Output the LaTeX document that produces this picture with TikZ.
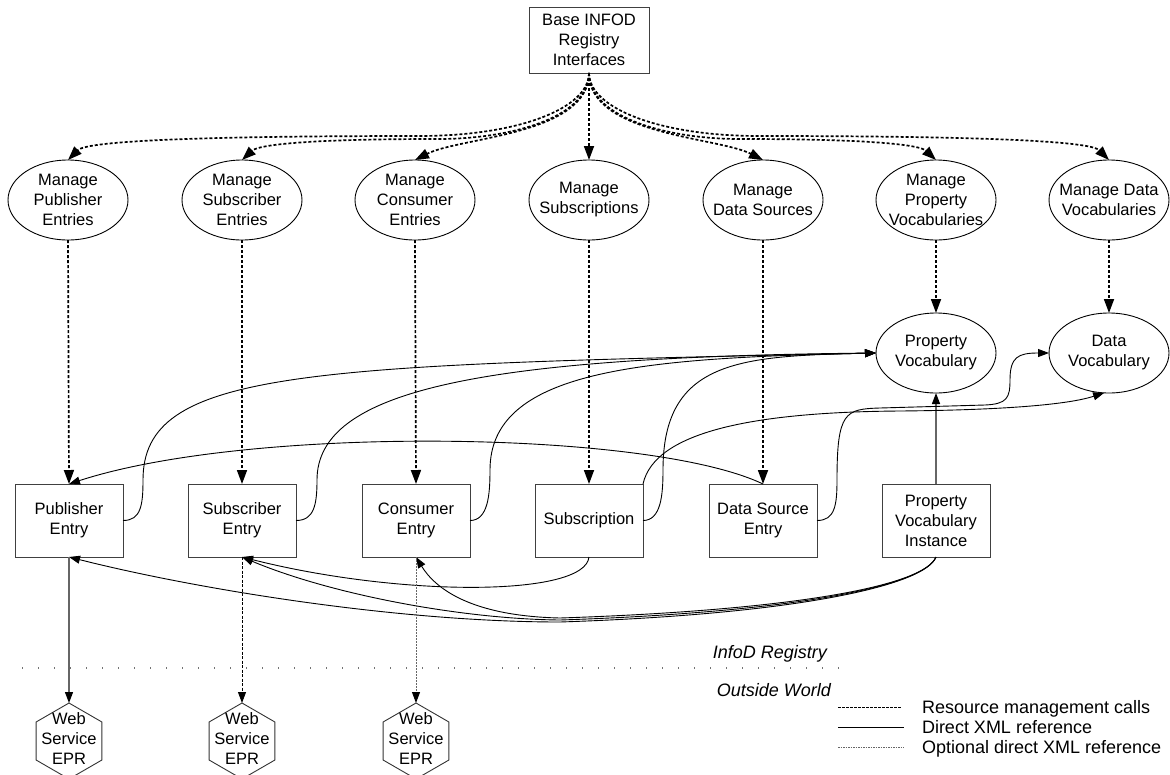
\documentclass[tikz,border=0pt]{standalone}
\usepackage{fontspec}
\setmainfont{Liberation Sans}
\usetikzlibrary{arrows.meta,shapes.geometric}

\begin{document}
\begin{tikzpicture}[x=1pt,y=-1pt,
  every node/.style={font=\fontsize{16.5}{20}\selectfont, align=center, inner sep=0pt, outer sep=0pt},
  txt/.style={},
  legtxt/.style={font=\fontsize{18}{20}\selectfont, anchor=base west},
  zonetxt/.style={font=\itshape\fontsize{18}{20}\selectfont, anchor=base east},
  oval/.style={draw=black, line width=0.9pt, ellipse, minimum width=120pt, minimum height=80pt},
  entry/.style={draw=black!75, line width=0.9pt, rectangle, minimum width=108pt, minimum height=73pt},
  epr/.style={draw=black!80, line width=0.9pt, regular polygon, regular polygon sides=6,
              minimum size=76pt, shape border rotate=30},
  mgmt/.style={line width=1.7pt, dash pattern=on 3pt off 2pt, -{Triangle[length=14pt,width=10pt]}},
  xmlref/.style={line width=0.9pt, -{Triangle[length=11pt,width=8pt]}},
  greyref/.style={draw=black!60, line width=1.3pt, -{Triangle[length=11pt,width=8pt,color=black]}},
  optdash/.style={line width=0.8pt, dash pattern=on 3pt off 1.5pt, -{Triangle[length=11pt,width=8pt]}},
  optdot/.style={draw=black!60, line width=0.9pt, dash pattern=on 2pt off 1pt, -{Triangle[length=11pt,width=8pt,color=black]}},
  sepline/.style={draw=black!55, line width=1.3pt, dash pattern=on 1.3pt off 14.7pt},
]
\useasboundingbox (0,0) rectangle (1170,774);

% top interface box
\node[entry, minimum width=120pt, minimum height=66pt] (base) at (589,40) {Base INFOD\\Registry\\Interfaces};

% management interfaces
\node[oval] (m1) at (68,200) {};
\node[txt] (m1t) at (m1) {Manage\\Publisher\\Entries};
\node[oval] (m2) at (242,200) {};
\node[txt] (m2t) at (m2) {Manage\\Subscriber\\Entries};
\node[oval] (m3) at (415,200) {};
\node[txt] (m3t) at (m3) {Manage\\Consumer\\Entries};
\node[oval] (m4) at (589,200) {};
\node[txt] (m4t) at (m4) {Manage\\Subscriptions};
\node[oval] (m5) at (763,200) {};
\node[txt] (m5t) at (m5) {Manage\\Data Sources};
\node[oval] (m6) at (936,200) {};
\node[txt] (m6t) at (m6) {Manage\\Property\\Vocabularies};
\node[oval] (m7) at (1109,200) {};
\node[txt] (m7t) at (m7) {Manage Data\\Vocabularies};

% vocabularies
\node[oval] (pv) at (936,353) {};
\node[txt] (pvt) at (pv) {Property\\Vocabulary};
\node[oval] (dv) at (1109,353) {};
\node[txt] (dvt) at (dv) {Data\\Vocabulary};

% registry entries
\node[entry] (b1) at (69,520.5) {Publisher\\Entry};
\node[entry] (b2) at (242,520.5) {Subscriber\\Entry};
\node[entry] (b3) at (416,520.5) {Consumer\\Entry};
\node[entry] (b4) at (589,520.5) {Subscription};
\node[entry] (b5) at (763,520.5) {Data Source\\Entry};
\node[entry] (b6) at (936,520.5) {Property\\Vocabulary\\Instance};

% outside world endpoints
\node[epr] (h1) at (69,741) {};
\node[txt] (h1t) at (69,739) {Web\\Service\\EPR};
\node[epr] (h2) at (242,741) {};
\node[txt] (h2t) at (242,739) {Web\\Service\\EPR};
\node[epr] (h3) at (416,741) {};
\node[txt] (h3t) at (416,739) {Web\\Service\\EPR};

% fan-out of resource management calls
\draw[mgmt] (base.south) -- (m4.north);
\draw[mgmt] (base.south) .. controls (589,135) and (460,137) .. (m3.north);
\draw[mgmt] (base.south) .. controls (589,135) and (718,137) .. (m5.north);
\draw[mgmt] (base.south) .. controls (589,118) and (509,139) .. (439,139)
             .. controls (282,139) and (256,147) .. (m2.north);
\draw[mgmt] (base.south) .. controls (589,118) and (669,139) .. (739,139)
             .. controls (896,139) and (922,147) .. (m6.north);
\draw[mgmt] (base.south) .. controls (589,108) and (519,136) .. (419,136)
             .. controls (108,136) and (82,146) .. (m1.north);
\draw[mgmt] (base.south) .. controls (589,108) and (659,136) .. (759,136)
             .. controls (1069,136) and (1095,146) .. (m7.north);

% management of individual resources
\draw[mgmt] (m1.south) -- (b1.north);
\draw[mgmt] (m2.south) -- (b2.north);
\draw[mgmt] (m3.south) -- (b3.north);
\draw[mgmt] (m4.south) -- (b4.north);
\draw[mgmt] (m5.south) -- (b5.north);
\draw[mgmt] (m6.south) -- (pv.north);
\draw[mgmt] (m7.south) -- (dv.north);

% direct XML references to the property vocabulary
\draw[xmlref] (b1.east) .. controls +(18,0) and +(0,25) .. (143,480)
               .. controls (143,370) and (300,365) .. (pv.west);
\draw[xmlref] (b2.east) .. controls +(18,0) and +(0,25) .. (317,480)
               .. controls (317,390) and (480,357) .. (pv.west);
\draw[xmlref] (b3.east) .. controls +(18,0) and +(0,25) .. (490,470)
               .. controls (490,370) and (640,358) .. (pv.west);
\draw[xmlref] (b4.east) .. controls +(18,0) and +(0,25) .. (663,470)
               .. controls (663,360) and (740,356) .. (pv.west);
\draw[greyref] (b6.north) -- (pv.south);

% references to the data vocabulary
\draw[xmlref] (b4.north east) .. controls (655,430) and (760,412) .. (900,411)
               .. controls (1010,410) and (1070,404) .. (dv.-97);
\draw[xmlref] (b5.east) .. controls +(18,0) and +(0,25) .. (837,480)
               .. controls (837,412) and (845,409) .. (880,408) -- (985,405)
               .. controls (1007,404) and (1010,398) .. (1010,380)
               .. controls (1010,357) and (1018,353) .. (dv.west);

% data source refers to its publisher
\draw[xmlref] (b5.north) .. controls (650,430) and (250,425) .. (b1.north);

% subscription refers to its subscriber
\draw[xmlref] (b4.south) .. controls (585,597) and (400,597) .. (b2.south);

% property vocabulary instance references
\draw[xmlref] (b6.south) .. controls (925,585) and (800,614) .. (560,622)
               .. controls (400,622) and (200,590) .. (b1.south);
\draw[xmlref] (b6.south) .. controls (925,585) and (800,612) .. (560,620)
               .. controls (460,619) and (330,594) .. (b2.south);
\draw[xmlref] (b6.south) .. controls (925,585) and (800,610) .. (560,618)
               .. controls (470,616) and (435,588) .. (b3.south);

% registry boundary
\coordinate (sepL) at (22,668);
\coordinate (sepR) at (842,668);
\draw[sepline] (sepL) -- (sepR);
\node[zonetxt] (regname) at (827,658.5) {InfoD Registry};
\node[zonetxt] (outname) at (831,696.5) {Outside World};

% endpoint references
\draw[greyref] (b1.south) -- (h1.north);
\draw[optdash] (b2.south) -- (h2.north);
\draw[optdot] (b3.south) -- (h3.north);

% legend
\coordinate (l1a) at (838,707);
\coordinate (l1b) at (901,707);
\coordinate (l2a) at (838,727);
\coordinate (l2b) at (904,727);
\coordinate (l3a) at (838,747);
\coordinate (l3b) at (904,747);
\draw[line width=1pt, dash pattern=on 2.5pt off 1.5pt] (l1a) -- (l1b);
\draw[line width=0.9pt] (l2a) -- (l2b);
\draw[draw=black!60, line width=0.8pt, dash pattern=on 1.5pt off 1pt] (l3a) -- (l3b);
\node[legtxt] (leg1) at (922,713.5) {Resource management calls};
\node[legtxt] (leg2) at (922,733.5) {Direct XML reference};
\node[legtxt] (leg3) at (922,753.5) {Optional direct XML reference};
\end{tikzpicture}
\end{document}
